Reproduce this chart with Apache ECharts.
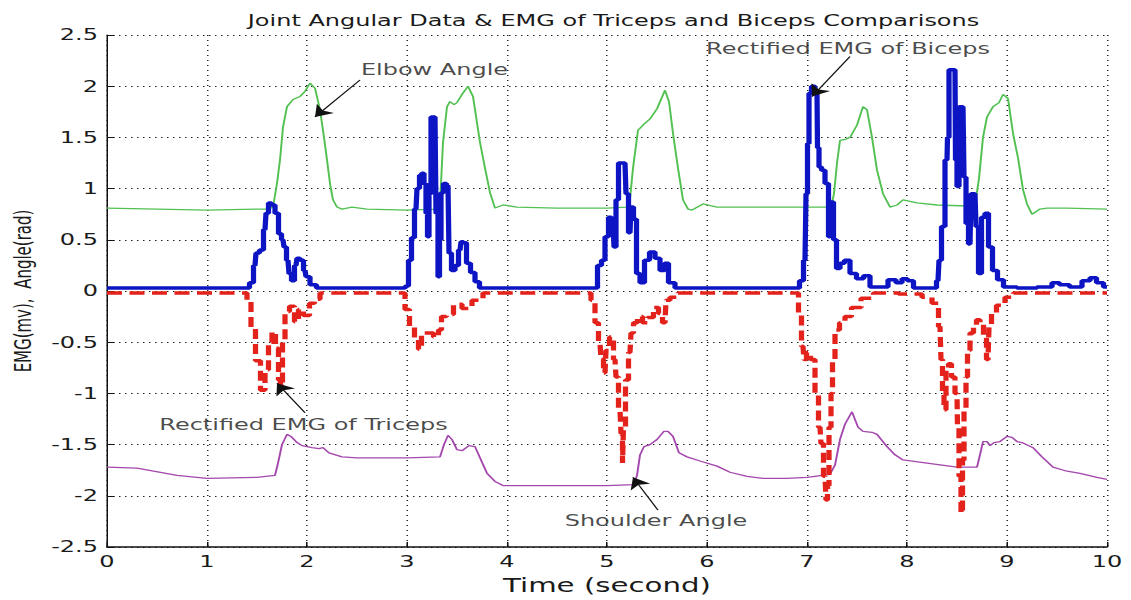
<!DOCTYPE html>
<html>
<head>
<meta charset="utf-8">
<script src="https://cdn.jsdelivr.net/npm/echarts/dist/echarts.min.js"></script>
<style>
html,body{margin:0;padding:0;background:#fff;overflow:hidden;}
#chart{width:754px;height:600px;transform:scaleX(1.5);transform-origin:0 0;}
</style>
</head>
<body>
<div id="chart"></div>
<script>
// ---- data (time in seconds, values in mV / rad) ----
const elbowT = [0,0.5,1.0,1.5,1.62,1.66,1.7,1.73,1.76,1.8,1.86,1.93,1.98,2.03,2.08,2.13,2.17,2.2,2.23,2.26,2.3,2.35,2.45,2.6,3.0,3.3,3.33,3.36,3.4,3.43,3.47,3.5,3.55,3.61,3.66,3.73,3.78,3.83,3.88,3.96,4.1,4.5,5.0,5.2,5.23,5.26,5.31,5.37,5.43,5.5,5.58,5.62,5.66,5.71,5.76,5.81,5.85,5.96,6.1,6.5,7.0,7.24,7.27,7.3,7.33,7.38,7.43,7.5,7.56,7.6,7.65,7.7,7.76,7.83,7.9,7.96,8.1,8.3,8.6,8.68,8.72,8.76,8.8,8.86,8.92,8.96,9.01,9.06,9.11,9.16,9.2,9.25,9.33,9.4,9.6,10.0];
const elbowV = [0.81,0.8,0.79,0.8,0.8,0.82,1.05,1.28,1.6,1.8,1.87,1.9,1.95,2.03,1.98,1.77,1.5,1.28,1.05,0.89,0.82,0.8,0.82,0.8,0.79,0.8,0.85,1.45,1.8,1.85,1.82,1.84,1.92,2.0,1.9,1.45,1.2,0.96,0.81,0.84,0.82,0.81,0.81,0.82,0.9,1.2,1.57,1.63,1.68,1.78,1.96,1.85,1.54,1.2,0.89,0.8,0.79,0.85,0.82,0.82,0.82,0.82,0.95,1.25,1.47,1.48,1.5,1.62,1.8,1.77,1.5,1.18,0.95,0.82,0.84,0.89,0.86,0.84,0.83,0.84,1.1,1.5,1.7,1.8,1.84,1.92,1.88,1.54,1.3,0.99,0.85,0.75,0.8,0.81,0.81,0.8];

const shoulderT = [0,0.3,0.7,1.0,1.5,1.68,1.71,1.75,1.8,1.84,1.9,1.95,2.05,2.12,2.16,2.22,2.35,2.5,3.0,3.33,3.37,3.41,3.45,3.5,3.55,3.62,3.68,3.74,3.8,3.88,3.96,4.5,5.0,5.27,5.3,5.33,5.37,5.43,5.5,5.57,5.61,5.66,5.72,5.8,5.93,6.1,6.23,6.4,6.56,6.8,7.0,7.23,7.28,7.33,7.38,7.45,7.51,7.56,7.65,7.7,7.8,7.88,7.96,8.2,8.5,8.7,8.73,8.76,8.8,8.83,8.87,8.93,9.0,9.05,9.1,9.15,9.26,9.35,9.46,9.6,9.73,9.9,10.0];
const shoulderV = [-1.72,-1.73,-1.8,-1.83,-1.82,-1.8,-1.68,-1.5,-1.4,-1.42,-1.48,-1.51,-1.53,-1.54,-1.53,-1.58,-1.62,-1.63,-1.63,-1.62,-1.5,-1.41,-1.45,-1.55,-1.56,-1.51,-1.52,-1.65,-1.78,-1.86,-1.9,-1.9,-1.9,-1.89,-1.8,-1.6,-1.52,-1.5,-1.45,-1.37,-1.37,-1.42,-1.58,-1.62,-1.66,-1.71,-1.77,-1.81,-1.83,-1.83,-1.82,-1.79,-1.7,-1.45,-1.3,-1.18,-1.33,-1.37,-1.38,-1.4,-1.52,-1.6,-1.65,-1.68,-1.72,-1.72,-1.6,-1.47,-1.47,-1.51,-1.48,-1.47,-1.42,-1.43,-1.47,-1.48,-1.53,-1.62,-1.72,-1.76,-1.78,-1.82,-1.84];

const bicepsT = [0,0.5,1.0,1.4,1.45,1.48,1.5,1.55,1.58,1.6,1.63,1.66,1.7,1.73,1.76,1.78,1.81,1.83,1.86,1.89,1.91,1.95,1.98,2.0,2.06,2.13,2.5,2.98,3.0,3.03,3.06,3.09,3.11,3.14,3.16,3.18,3.2,3.21,3.23,3.25,3.28,3.3,3.32,3.33,3.35,3.38,3.41,3.43,3.46,3.5,3.53,3.55,3.58,3.61,3.66,3.7,3.75,4.0,4.5,4.88,4.93,4.96,5.0,5.03,5.06,5.08,5.1,5.13,5.18,5.2,5.23,5.25,5.28,5.31,5.35,5.4,5.45,5.51,5.55,5.6,5.63,5.73,6.0,6.5,6.9,6.95,6.98,7.0,7.01,7.03,7.06,7.1,7.11,7.13,7.16,7.2,7.23,7.25,7.28,7.31,7.35,7.4,7.46,7.53,7.6,7.66,7.76,7.86,7.92,7.98,8.03,8.1,8.28,8.31,8.33,8.36,8.4,8.41,8.43,8.48,8.49,8.51,8.53,8.56,8.58,8.6,8.63,8.65,8.68,8.7,8.73,8.76,8.8,8.83,8.88,8.93,9.0,9.2,9.4,9.5,9.55,9.7,9.8,9.86,9.93,10.0];
const bicepsV = [0.03,0.03,0.03,0.03,0.08,0.25,0.37,0.4,0.6,0.76,0.86,0.84,0.76,0.56,0.5,0.43,0.3,0.17,0.1,0.25,0.32,0.3,0.2,0.14,0.06,0.03,0.03,0.03,0.05,0.3,0.52,0.8,1.0,1.13,1.15,1.05,0.76,0.53,0.95,1.7,1.7,0.76,0.14,0.5,0.96,1.05,1.03,0.37,0.2,0.25,0.4,0.48,0.47,0.27,0.18,0.09,0.03,0.03,0.03,0.03,0.25,0.3,0.53,0.72,0.7,0.43,0.89,1.25,1.25,0.95,0.57,0.82,0.7,0.17,0.08,0.3,0.38,0.32,0.2,0.27,0.08,0.03,0.03,0.03,0.03,0.1,0.3,0.95,1.44,1.93,2.0,1.93,1.4,1.21,1.18,1.05,0.53,0.87,0.5,0.22,0.27,0.3,0.17,0.12,0.15,0.04,0.04,0.11,0.08,0.12,0.1,0.03,0.03,0.1,0.3,0.63,1.28,1.5,2.16,2.16,1.28,1.02,1.8,1.8,1.11,0.66,0.46,0.95,0.95,0.63,0.17,0.72,0.76,0.43,0.2,0.11,0.04,0.03,0.04,0.08,0.06,0.04,0.1,0.13,0.08,0.04];

const tricepsT = [0,0.5,1.0,1.38,1.42,1.46,1.51,1.56,1.6,1.63,1.67,1.7,1.73,1.75,1.76,1.8,1.85,1.9,1.93,2.0,2.05,2.1,2.16,2.5,2.96,3.0,3.05,3.1,3.13,3.16,3.23,3.3,3.33,3.36,3.43,3.5,3.6,3.7,3.82,4.5,4.82,4.86,4.9,4.93,4.95,4.98,5.0,5.05,5.08,5.1,5.13,5.15,5.16,5.17,5.2,5.23,5.25,5.28,5.33,5.38,5.43,5.5,5.53,5.58,5.6,5.66,5.76,6.5,6.9,6.93,6.96,6.98,7.01,7.06,7.1,7.13,7.15,7.18,7.2,7.21,7.23,7.25,7.26,7.3,7.35,7.41,7.48,7.6,7.73,8.1,8.2,8.3,8.33,8.35,8.36,8.38,8.4,8.43,8.46,8.5,8.51,8.53,8.55,8.56,8.58,8.6,8.61,8.65,8.68,8.71,8.75,8.78,8.81,8.83,8.86,8.93,9.03,9.1,10.0];
const tricepsV = [-0.02,-0.02,-0.02,-0.02,-0.1,-0.36,-0.68,-0.97,-0.77,-0.5,-0.4,-0.56,-0.87,-0.93,-0.5,-0.2,-0.15,-0.3,-0.18,-0.24,-0.12,-0.08,-0.02,-0.02,-0.02,-0.18,-0.35,-0.47,-0.57,-0.41,-0.41,-0.45,-0.38,-0.25,-0.23,-0.13,-0.17,-0.09,-0.02,-0.02,-0.02,-0.09,-0.31,-0.51,-0.67,-0.8,-0.58,-0.45,-0.67,-0.84,-1.16,-1.39,-1.68,-1.33,-0.87,-0.6,-0.41,-0.31,-0.25,-0.31,-0.26,-0.16,-0.22,-0.31,-0.09,-0.06,-0.02,-0.02,-0.02,-0.22,-0.54,-0.67,-0.6,-0.67,-1.0,-1.33,-1.49,-1.81,-2.04,-1.9,-1.33,-1.0,-0.67,-0.38,-0.31,-0.25,-0.16,-0.07,-0.02,-0.03,-0.06,-0.12,-0.35,-0.67,-1.0,-1.16,-0.77,-0.71,-0.84,-1.0,-1.33,-1.81,-2.17,-1.65,-1.16,-0.84,-0.58,-0.41,-0.35,-0.28,-0.31,-0.45,-0.67,-0.35,-0.22,-0.14,-0.06,-0.02,-0.02];

// annotation texts and their anchors (data coordinates)
const noteText  = ['Elbow Angle', 'Rectified EMG of Biceps', 'Rectified EMG of Triceps', 'Shoulder Angle'];
const noteT     = [3.275, 7.41, 1.965, 5.49];
const noteV     = [2.16, 2.37, -1.30, -2.24];
const arrowFromT = [2.53, 7.43, 1.98, 5.51];
const arrowFromV = [2.06, 2.29, -1.19, -2.14];
const arrowToT   = [2.08, 7.05, 1.70, 5.26];
const arrowToV   = [1.70, 1.90, -0.90, -1.82];

// ---- rendering ----
const S = 1.5; // the reference picture is stretched horizontally
const FONT = 'DejaVu Sans';
const zip = (t, v) => t.slice(0, Math.min(t.length, v.length)).map((x, i) => [x, v[i]]);

const chart = echarts.init(document.getElementById('chart'), null, {renderer: 'svg'});
const lineBase = {type: 'line', showSymbol: false, symbol: 'none', smooth: false, silent: true, animation: false};

chart.setOption({
  animation: false,
  backgroundColor: '#fff',
  title: {
    text: 'Joint Angular Data & EMG of Triceps and Biceps Comparisons',
    left: 404, top: 8, textAlign: 'center',
    textStyle: {fontFamily: FONT, fontSize: 16, fontWeight: 'normal', color: '#1a1a1a'}
  },
  grid: {left: 107 / S, right: 24 / S, top: 35, bottom: 53},
  xAxis: {
    type: 'value', min: 0, max: 10, interval: 1,
    name: 'Time (second)', nameLocation: 'middle', nameGap: 26,
    nameTextStyle: {fontFamily: FONT, fontSize: 19.5, color: '#1a1a1a'},
    axisLine: {show: true, onZero: false, lineStyle: {color: '#111', width: 1.5}},
    axisTick: {show: true, inside: true, length: 5, lineStyle: {color: '#111', width: 1}},
    axisLabel: {fontFamily: FONT, fontSize: 16, color: '#1a1a1a', margin: 7},
    splitLine: {show: true, lineStyle: {color: '#222', width: 1, type: [1, 4]}}
  },
  yAxis: {
    type: 'value', min: -2.5, max: 2.5, interval: 0.5,
    name: 'EMG(mv),  Angle(rad)', nameLocation: 'middle', nameGap: 46,
    nameTextStyle: {fontFamily: FONT, fontSize: 15, color: '#1a1a1a'},
    axisLine: {show: true, onZero: false, lineStyle: {color: '#111', width: 1}},
    axisTick: {show: true, inside: true, length: 5, lineStyle: {color: '#111', width: 1}},
    axisLabel: {fontFamily: FONT, fontSize: 16, color: '#1a1a1a', margin: 6},
    splitLine: {show: true, lineStyle: {color: '#222', width: 1, type: [1, 3]}}
  },
  series: [
    Object.assign({}, lineBase, {name: 'Elbow Angle', data: zip(elbowT, elbowV),
      lineStyle: {color: '#52c152', width: 1.3}}),
    Object.assign({}, lineBase, {name: 'Shoulder Angle', data: zip(shoulderT, shoulderV),
      lineStyle: {color: '#a448ad', width: 1.3}}),
    Object.assign({}, lineBase, {name: 'Rectified EMG of Triceps', data: zip(tricepsT, tricepsV),
      step: 'middle', lineStyle: {color: '#e3221c', width: 3.5, type: [10, 5]}}),
    Object.assign({}, lineBase, {name: 'Rectified EMG of Biceps', data: zip(bicepsT, bicepsV),
      step: 'middle', lineStyle: {color: '#0c14c4', width: 3.5}}),
    {
      type: 'scatter', name: 'notes', silent: true, animation: false,
      symbolSize: 1, itemStyle: {color: 'transparent'},
      data: noteText.map((s, i) => ({value: [noteT[i], noteV[i]], name: s})),
      label: {show: true, position: 'inside', align: 'center', verticalAlign: 'middle',
        formatter: p => p.name, fontFamily: FONT, fontSize: 16, color: '#1a1a1a'},
      markLine: {
        silent: true, animation: false,
        symbol: ['none', 'arrow'], symbolSize: 11,
        label: {show: false},
        lineStyle: {color: '#111', width: 1, type: 'solid'},
        data: noteText.map((s, i) => [
          {coord: [arrowFromT[i], arrowFromV[i]]},
          {coord: [arrowToT[i], arrowToV[i]]}
        ])
      }
    }
  ]
});
</script>
</body>
</html>
